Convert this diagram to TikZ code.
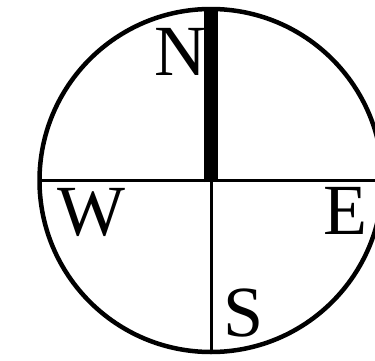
\documentclass[tikz,border=0pt]{standalone}
\usepackage{fontspec}
\setmainfont{Liberation Serif}
\begin{document}
\begin{tikzpicture}[x=1pt,y=1pt,
  rim/.style={line width=4.5pt},
  thinline/.style={line width=3pt},
  needle/.style={line width=14pt},
  letter/.style={anchor=base,inner sep=0pt,font=\fontsize{72}{72}\selectfont}]
\useasboundingbox (0,0) rectangle (375,360);
\clip (0,0) rectangle (375,360);
\coordinate (c) at (211,179.5);
\coordinate (top) at (211,353.5);
\coordinate (bot) at (211,8);
\coordinate (west) at (40,179.5);
\coordinate (east) at (390,179.5);
\draw[rim] (c) circle (171.5);
\draw[thinline] (west) -- (east);
\draw[thinline] (c) -- (bot);
\draw[needle] (c) ++(0,-1.5) -- (top);
\node[letter] (N) at (180,285) {N};
\node[letter] (W) at (91,125) {W};
\node[letter] (E) at (345.5,126) {E};
\node[letter] (S) at (243.5,24) {S};
\end{tikzpicture}
\end{document}
